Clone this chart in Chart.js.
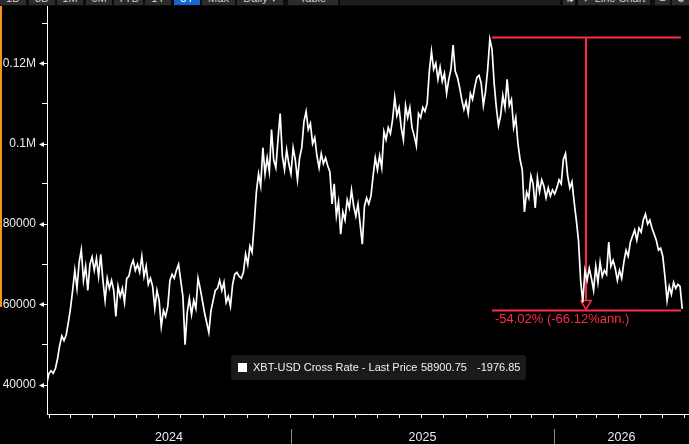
<!DOCTYPE html>
<html><head><meta charset="utf-8">
<script src="https://cdn.jsdelivr.net/npm/chart.js@4.4.1/dist/chart.umd.min.js"></script>
<style>
html,body{margin:0;padding:0;background:#000;width:689px;height:444px;overflow:hidden;font-family:"Liberation Sans",Arial,sans-serif;}
#wrap{position:relative;width:689px;height:444px;}
#c{position:absolute;left:0;top:0;}
#toolbar{position:absolute;left:0;top:0;width:689px;height:6px;overflow:hidden;background:#0c0c0c;}
.btn{position:absolute;top:0;height:5px;background:#2c2c2c;color:#cfcfcf;font-size:11px;line-height:11px;text-align:center;overflow:hidden;}
.btn span{position:relative;top:-7px;}
.btn.on{background:#1467d4;color:#fff;}
.btn.field{background:#1d1d1d;}
#orange{position:absolute;left:0;top:6px;width:2px;height:301px;background:#f7931e;}
#legend{position:absolute;left:231px;top:355px;width:295px;height:25px;background:#1a1a1a;border-radius:3px;color:#eef2f7;font-size:11px;line-height:25px;white-space:nowrap;}
#legend .sw{position:absolute;left:7px;top:8px;width:9px;height:9px;background:#fff;}
#legend .t{position:absolute;top:0;}
</style></head>
<body><div id="wrap">
<canvas id="c" width="689" height="444"></canvas>
<div id="toolbar">
<div class="btn" style="left:0;width:26px"><span>1D</span></div>
<div class="btn" style="left:29px;width:26px"><span>3D</span></div>
<div class="btn" style="left:57px;width:26px"><span>1M</span></div>
<div class="btn" style="left:86px;width:26px"><span>6M</span></div>
<div class="btn" style="left:114px;width:29px"><span>YTD</span></div>
<div class="btn" style="left:145px;width:26px"><span>1Y</span></div>
<div class="btn on" style="left:174px;width:26px"><span>5Y</span></div>
<div class="btn" style="left:202px;width:33px"><span>Max</span></div>
<div class="btn" style="left:237px;width:46px"><span>Daily ▾</span></div>
<div class="btn" style="left:288px;width:50px"><span>Table</span></div>
<div class="btn field" style="left:340px;width:220px"><span></span></div>
<div class="btn" style="left:563px;width:12px"><span>⇅</span></div>
<div class="btn" style="left:578px;width:72px"><span>↗ Line Chart</span></div>
<div class="btn" style="left:655px;width:15px"><span>≡</span></div>
<div class="btn" style="left:672px;width:17px"><span>⚙</span></div>
</div>
<div id="orange"></div>
<div id="legend"><div class="sw"></div><span class="t" style="left:22px">XBT-USD Cross Rate - Last Price</span><span class="t" style="left:190px">58900.75</span><span class="t" style="left:246px">-1976.85</span></div>
</div>
<script>
// Daily XBT-USD, sampled every 3 days from 27 Jan 2024 (day numbers from 1 Jan 2024), price in USD thousands
const firstDay = 27;
const stepDays = 3;
const priceK = [
40.2,42.8,43.5,42.9,44.0,46.5,49.8,52.2,51.0,52.4,
55.5,59.0,63.5,68.5,64.0,70.5,73.6,66.0,69.5,63.5,
70.0,71.8,68.5,71.5,67.0,72.5,66.0,61.0,66.5,64.0,
66.0,63.5,57.0,64.5,62.0,64.0,60.5,66.5,67.0,69.5,
71.0,68.5,70.0,68.0,72.0,67.0,69.5,65.0,66.5,64.5,
59.0,63.5,61.0,54.5,58.5,57.0,59.5,66.0,67.5,66.5,
68.5,70.0,66.0,62.0,50.0,58.0,61.5,57.5,61.0,59.0,
66.5,64.0,61.0,58.0,55.5,53.0,58.5,61.0,63.5,64.0,
66.0,63.5,65.5,60.5,62.0,59.5,65.0,67.5,68.0,67.0,
66.5,68.0,72.5,70.0,74.5,73.0,80.0,88.0,92.5,89.5,
99.0,92.5,96.5,93.0,103.5,96.0,94.0,101.0,107.5,97.0,
93.5,98.5,95.0,92.5,99.0,96.0,91.0,96.5,99.0,105.5,
108.0,103.5,105.0,100.0,101.5,97.0,94.0,97.5,95.0,96.5,
94.5,93.0,85.0,90.0,82.0,85.5,77.5,83.0,81.0,86.0,
84.0,88.5,84.5,82.0,85.0,80.0,75.0,84.5,86.5,85.0,
87.0,92.0,96.5,93.5,97.0,94.0,103.0,101.0,104.0,102.5,
106.0,111.5,107.0,109.0,104.0,101.0,109.5,106.5,109.0,104.0,
102.0,99.5,107.5,106.5,109.0,108.0,110.0,118.0,123.0,118.5,
120.0,116.0,119.0,115.5,117.5,112.5,116.0,118.5,124.5,118.0,
116.5,114.0,111.0,108.5,110.5,107.5,112.5,111.0,114.0,116.5,
117.0,115.0,109.5,113.0,118.5,126.0,123.5,115.0,109.0,104.5,
107.0,112.0,109.0,116.0,109.5,111.0,104.0,106.5,100.0,96.0,
93.5,83.0,88.0,86.5,92.0,90.0,84.0,91.5,88.0,91.0,
89.5,86.5,89.0,87.0,88.5,87.5,89.0,91.0,90.0,96.0,
97.5,92.0,89.0,90.5,85.5,81.0,76.0,66.0,60.5,68.5,
66.0,69.0,66.5,63.5,69.5,65.5,70.5,67.0,68.5,67.5,
75.5,69.5,71.0,69.0,66.0,68.5,66.5,70.5,73.5,72.0,
75.5,77.0,78.5,76.0,79.0,78.0,81.0,82.5,80.0,81.0,
79.0,77.5,76.0,73.5,74.0,72.0,67.0,61.0,64.5,62.5,
65.5,64.0,65.0,64.5,58.9
];
const days = priceK.map((_, i) => firstDay + i * stepDays);

// Drawdown annotation (days, USD thousands)
const ddDays = [644.9, 907.3];
const ddHigh = 126.4;
const ddLow = 58.5;
const ddArrowDay = 775.4;
const ddArrowTip = 58.75;
const ddArrowBase = 61.0;
const ddArrowHalfDays = 7.4;
const ddText = "-54.02% (-66.12%ann.)";

// Axes
const xMin = 27.4, xMax = 918.4;
const yMin = 32.75, yMax = 134.25;
const yTicks = [40,50,60,70,80,90,100,110,120,130];
const yMajor = [40,60,80,100,120];
const yLabels = ['40000','60000','80000','0.1M','0.12M'];
const years = [2024, 2025, 2026];

const DAY = 864e5;
const base = Date.UTC(2024,0,1);
const monthStarts = [];
for (let m = 0; m < 36; m++) {
  const d = (Date.UTC(2024, m, 1) - base) / DAY;
  if (d > xMin && d < xMax) monthStarts.push(d);
}
const yearStarts = years.map(y => (Date.UTC(y,0,1) - base) / DAY);

const RED = '#ff2a48';
const LABEL = '#e6ecf2';

const pts = (xs, ys) => xs.map((x, i) => ({x, y: ys[i]}));

const deco = {
  id: 'deco',
  afterDraw(chart) {
    const c = chart.ctx, xs = chart.scales.x, ys = chart.scales.y;
    const left = chart.chartArea.left;
    c.save();
    c.fillStyle = '#fff';
    c.strokeStyle = '#fff';
    c.lineWidth = 1;
    yMajor.forEach(v => {
      const py = Math.round(ys.getPixelForValue(v)) + 0.5;
      c.beginPath();
      c.moveTo(left - 8, py);
      c.lineTo(left - 3, py - 2.5);
      c.lineTo(left - 3, py + 2.5);
      c.closePath();
      c.fill();
      c.beginPath();
      c.moveTo(left - 3, py); c.lineTo(left, py); c.stroke();
    });
    c.font = '12.5px "Liberation Sans", Arial, sans-serif';
    c.fillStyle = LABEL;
    c.textAlign = 'center';
    c.textBaseline = 'middle';
    years.forEach((y, i) => {
      const s = Math.max(yearStarts[i], xMin);
      const e = i + 1 < years.length ? yearStarts[i+1] : xMax;
      const ps = xs.getPixelForValue(s), pe = xs.getPixelForValue(Math.min(e, xMax));
      c.fillText(String(y), (ps + pe) / 2, 438);
      if (yearStarts[i] > xMin) {
        c.strokeStyle = '#8a8a8a';
        c.beginPath();
        const px = Math.round(ps) + 0.5;
        c.moveTo(px, 429); c.lineTo(px, 444); c.stroke();
      }
    });
    c.font = '13px "Liberation Sans", Arial, sans-serif';
    c.fillStyle = RED;
    c.textAlign = 'left';
    c.fillText(ddText, xs.getPixelForValue(ddDays[0]) + 3, ys.getPixelForValue(ddLow) + 9);
    c.restore();
  }
};

new Chart(document.getElementById('c'), {
  type: 'line',
  data: {
    datasets: [
      {data: pts(days, priceK), borderColor: '#fff', borderWidth: 1.7, pointRadius: 0, tension: 0},
      {data: pts(ddDays, [ddHigh, ddHigh]), borderColor: RED, borderWidth: 2, pointRadius: 0},
      {data: pts(ddDays, [ddLow, ddLow]), borderColor: RED, borderWidth: 2, pointRadius: 0},
      {data: pts([ddArrowDay, ddArrowDay], [ddHigh, ddArrowBase]), borderColor: RED, borderWidth: 2, pointRadius: 0},
      {data: pts([ddArrowDay - ddArrowHalfDays, ddArrowDay + ddArrowHalfDays, ddArrowDay, ddArrowDay - ddArrowHalfDays],
                 [ddArrowBase, ddArrowBase, ddArrowTip, ddArrowBase]), borderColor: RED, borderWidth: 1.5, pointRadius: 0}
    ]
  },
  options: {
    responsive: false, animation: false, devicePixelRatio: 1,
    layout: {padding: {top: 6, right: 0, left: 0, bottom: 0}},
    plugins: {legend: {display: false}, tooltip: {enabled: false}},
    scales: {
      x: {
        type: 'linear', min: xMin, max: xMax,
        afterBuildTicks: ax => { ax.ticks = monthStarts.map(v => ({value: v})); },
        afterFit: ax => { ax.height = 30; ax.paddingLeft = 0; ax.paddingRight = 0; },
        ticks: {callback: () => '', autoSkip: false},
        grid: {drawOnChartArea: false, drawTicks: true, tickLength: 4, color: '#fff'},
        border: {color: '#fff', width: 1}
      },
      y: {
        min: yMin, max: yMax,
        afterBuildTicks: ax => { ax.ticks = yTicks.map(v => ({value: v})); },
        afterFit: ax => { ax.width = 47; ax.paddingTop = 0; ax.paddingBottom = 0; },
        ticks: {
          autoSkip: false, padding: 6, color: LABEL,
          font: {family: '"Liberation Sans", Arial, sans-serif', size: 12},
          callback: v => { const k = yMajor.indexOf(v); return k >= 0 ? yLabels[k] : ''; }
        },
        grid: {drawOnChartArea: false, tickLength: 5,
               color: c => (c.tick && yMajor.includes(c.tick.value)) ? 'rgba(0,0,0,0)' : '#fff'},
        border: {color: '#fff', width: 1}
      }
    }
  },
  plugins: [deco]
});
</script>
</body></html>
